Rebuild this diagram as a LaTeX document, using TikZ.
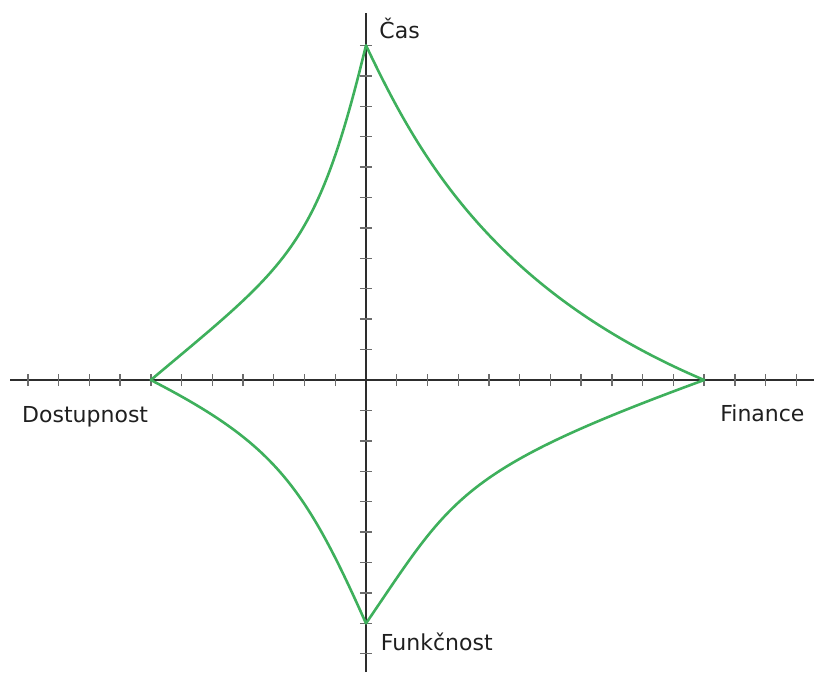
\documentclass[tikz,border=0pt]{standalone}
\usepackage{fontspec}
\setmainfont{DejaVu Sans}
\definecolor{curvegreen}{RGB}{62,176,92}
\definecolor{axisgray}{RGB}{45,45,45}
\begin{document}
\begin{tikzpicture}[x=30.74pt, y=30.42pt,
  every node/.style={font=\fontsize{22}{26}\selectfont, text=black!88, inner sep=0pt},
  axis/.style={line width=1.6pt, axisgray},
  tickmark/.style={line width=1.4pt, axisgray!70},
  curve/.style={line width=2.6pt, curvegreen, line cap=round, line join=round}]
  \useasboundingbox (-11.906,-9.599) rectangle (14.574,12.492);
  % Axes with unit ticks
  \draw[axis] (-11.58,0) -- (14.574,0);
  \draw[axis] (0,-9.599) -- (0,12.06);
  \foreach \x in {-11,...,-1,1,2,...,14} \draw[tickmark] (\x,-0.2) -- (\x,0.2);
  \foreach \y in {-9,...,-1,1,2,...,11} \draw[tickmark] (-0.2,\y) -- (0.2,\y);
  % Corner points:   cas
  %                 /   \
  %              dos     fin
  %                 \   /
  %                  fun
  \coordinate (cas) at (0,11);
  \coordinate (fin) at (11,0);
  \coordinate (fun) at (0,-8);
  \coordinate (dos) at (-7,0);
  \draw[curve] (cas) .. controls (-1.61,4.3) and (-2.5,3.82) .. (dos);
  \draw[curve] (cas) .. controls (1.6,7.6) and (4.0,3.0) .. (fin);
  \draw[curve] (dos) .. controls (-3.0,-2.08) and (-2.0,-3.46) .. (fun);
  \draw[curve] (fun) .. controls (2.8,-3.86) and (3.0,-2.96) .. (fin);
  % Axis labels
  \node[anchor=base west] (lcas) at (0.43,11.23) {Čas};
  \node[anchor=base west] (lfin) at (11.52,-1.38) {Finance};
  \node[anchor=base west] (lfun) at (0.48,-8.90) {Funkčnost};
  \node[anchor=base west] (ldos) at (-11.19,-1.40) {Dostupnost};
\end{tikzpicture}
\end{document}
